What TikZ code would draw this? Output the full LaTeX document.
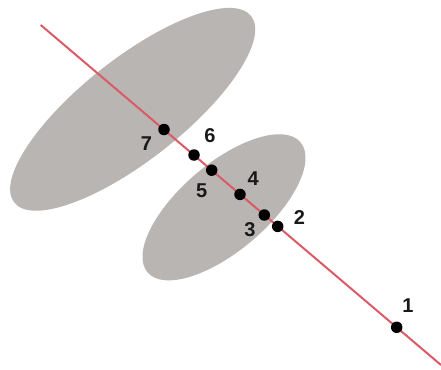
\documentclass[tikz,border=0pt]{standalone}
\usepackage{fontspec}
\setmainfont{Liberation Sans}
\definecolor{blobgray}{RGB}{184,181,178}
\definecolor{axisred}{RGB}{218,90,102}
\tikzset{
  blob/.style={fill=blobgray, draw=none},
  axisline/.style={draw=axisred, line width=2pt},
  dot/.style={circle, fill=black, inner sep=0pt, minimum size=11.5pt},
  lbl/.style={font=\fontsize{20}{20}\selectfont\bfseries, text=black!90, inner sep=0pt}
}
\begin{document}
\begin{tikzpicture}[x=1pt,y=-1pt]
\useasboundingbox (0,0) rectangle (441,369);
% ellipses
\fill[blob, rotate around={38.2:(132.7,109.3)}] (132.7,109.3) ellipse [x radius=150.7pt, y radius=50.8pt];
\fill[blob, rotate around={40.4:(224,207.3)}] (224,207.3) ellipse [x radius=100.4pt, y radius=43.6pt];
% axis line
\coordinate (start) at (40.7,25);
\coordinate (stop) at (441,365);
\draw[axisline] (start) -- (stop);
% dots
\node[dot] (p7) at (164,129.5) {};
\node[dot] (p6) at (194,155) {};
\node[dot] (p5) at (211.7,170.2) {};
\node[dot] (p4) at (240,194.4) {};
\node[dot] (p3) at (264.3,215) {};
\node[dot] (p2) at (277.7,226.4) {};
\node[dot] (p1) at (396.7,327.3) {};
% labels
\node[lbl] (l7) at (146.5,143.5) {7};
\node[lbl] (l6) at (210,136) {6};
\node[lbl] (l5) at (201.7,190.5) {5};
\node[lbl] (l4) at (253.3,178.5) {4};
\node[lbl] (l3) at (250,230) {3};
\node[lbl] (l2) at (299.5,218) {2};
\node[lbl] (l1) at (408,306) {1};
\end{tikzpicture}
\end{document}
